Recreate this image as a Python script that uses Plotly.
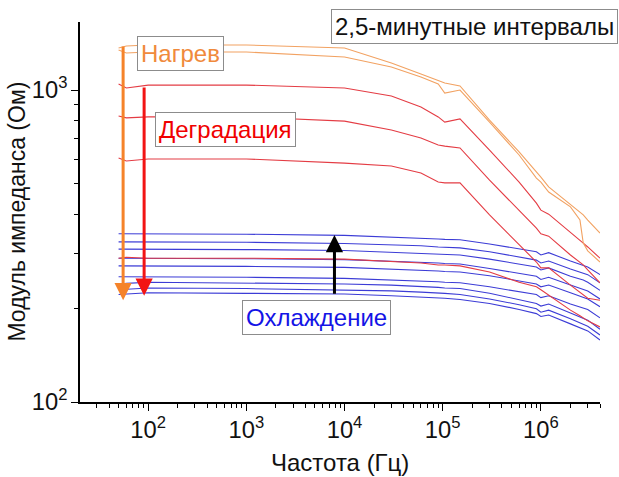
import numpy as np
import plotly.graph_objects as go

# Frequencies (Hz)
freq = [50, 60, 100, 1000, 10000, 30000, 60000, 90000, 105000, 150000, 300000,
        600000, 900000, 1000000, 1200000, 2000000, 2500000, 2700000, 3000000, 4000000]

# Heating (orange)
heat_1 = [1364, 1384, 1394, 1394, 1364, 1221, 1125, 1069, 1053, 1030, 801,
          633, 550, 526, 489, 428, 406, 398, 383, 348]
heat_2 = [1344, 1314, 1324, 1324, 1276, 1185, 1101, 1045, 978, 1000, 789,
          619, 522, 507, 471, 422, 383, 323, 305, 281]

# Degradation (red)
deg_1 = [1045, 1015, 1037, 1037, 1015, 957, 882, 820, 789, 808, 642,
         507, 434, 412, 400, 351, 331, 323, 314, 289]
deg_2 = [826, 814, 820, 820, 795, 744, 702, 666, 661, 652, 514,
         412, 361, 346, 340, 296, 281, 275, 265, 241]
deg_3 = [605, 592, 601, 601, 583, 571, 542, 507, 504, 504, 398,
         319, 281, 269, 269, 237, 225, 220, 215, 212]
deg_4 = [289, 291, 289, 289, 287, 283, 279, 275, 275, 273, 261,
         242, 234, 229, 220, 197, 189, 186, 182, 174]

# Cooling (blue)
cool_1 = [346, 346, 346, 345, 342, 338, 336, 333, 332, 331, 321, 310, 303, 296, 301, 283, 277, 275, 271, 256]
cool_2 = [326, 326, 326, 325, 322, 319, 317, 314, 313, 312, 303, 292, 285, 279, 283, 267, 261, 259, 256, 241]
cool_3 = [309, 309, 309, 308, 306, 302, 300, 298, 297, 296, 287, 277, 271, 265, 269, 253, 248, 246, 242, 228]
cool_4 = [289, 289, 289, 288, 286, 283, 281, 279, 278, 277, 268, 259, 253, 247, 251, 237, 232, 230, 227, 214]
cool_5 = [273, 273, 273, 272, 270, 267, 265, 263, 262, 261, 254, 244, 239, 234, 237, 224, 219, 217, 214, 202]
cool_6 = [252, 252, 252, 251, 249, 246, 245, 243, 242, 241, 234, 226, 221, 216, 219, 206, 202, 200, 198, 186]
cool_7 = [238, 240, 242, 241, 239, 237, 235, 233, 232, 231, 223, 213, 207, 203, 206, 193, 187, 186, 183, 171]
cool_8 = [229, 230, 232, 231, 229, 227, 225, 224, 223, 221, 214, 205, 199, 194, 197, 185, 179, 178, 175, 164]
cool_9 = [221, 222, 224, 223, 222, 219, 217, 216, 215, 213, 207, 198, 192, 188, 190, 178, 173, 172, 169, 158]

heating = [heat_1, heat_2]
degradation = [deg_1, deg_2, deg_3, deg_4]
cooling = [cool_1, cool_2, cool_3, cool_4, cool_5, cool_6, cool_7, cool_8, cool_9]

x_title = "Частота (Гц)"
y_title = "Модуль импеданса (Ом)"

ORANGE = "#F2A262"
RED = "#E43C44"
BLUE = "#3C3CD6"

fig = go.Figure()
for s in cooling:
    fig.add_trace(go.Scatter(x=freq, y=s, mode="lines", line=dict(color=BLUE, width=1.1)))
for s in degradation:
    fig.add_trace(go.Scatter(x=freq, y=s, mode="lines", line=dict(color=RED, width=1.1)))
for s in heating:
    fig.add_trace(go.Scatter(x=freq, y=s, mode="lines", line=dict(color=ORANGE, width=1.1)))

FONT = "Liberation Sans, Arial, sans-serif"

# arrows: (x, y_tail, y_head) in data units
arrows = [
    (55.6, 1394, 212, "#F5832A"),
    (91, 1030, 219, "#F21414"),
    (7900, 220, 343, "#000000"),
]
for xa, yt, yh, c in arrows:
    fig.add_annotation(x=np.log10(xa), y=np.log10(yh), ax=np.log10(xa), ay=np.log10(yt),
                       xref="x", yref="y", axref="x", ayref="y", text="", showarrow=True,
                       arrowhead=2, arrowsize=1.15, arrowwidth=3, arrowcolor=c, standoff=0)

labels = [
    ("Нагрев", 0.194, 0.918, "#F08A3C", 24),
    ("Деградация", 0.280, 0.717, "#F00000", 24),
    ("Охлаждение", 0.4555, 0.222, "#1414E6", 24),
    ("2,5-минутные интервалы", 0.7585, 0.987, "#111111", 24),
]
for t, px, py, c, fs in labels:
    fig.add_annotation(x=px, y=py, xref="paper", yref="paper", text=t, showarrow=False,
                       font=dict(family=FONT, size=fs, color=c),
                       bgcolor="white", bordercolor="#8c8c8c", borderwidth=1, borderpad=3,
                       xanchor="center", yanchor="middle")

# axis titles
fig.add_annotation(x=0.5, y=-0.158, xref="paper", yref="paper", text=x_title, showarrow=False,
                   font=dict(family=FONT, size=24, color="#111111"), xanchor="center", yanchor="middle")
fig.add_annotation(x=-0.122, y=0.5, xref="paper", yref="paper", text=y_title, showarrow=False,
                   textangle=-90, font=dict(family=FONT, size=23, color="#111111"),
                   xanchor="center", yanchor="middle")

fig.update_layout(
    width=619, height=477, margin=dict(l=80, r=19, t=22, b=75),
    plot_bgcolor="white", paper_bgcolor="white", showlegend=False,
    font=dict(family=FONT, color="#111111"),
)
fig.update_xaxes(type="log", range=[1.306, 6.602], dtick=1, exponentformat="power", automargin=False,
                 showline=True, linecolor="black", linewidth=1.5, showgrid=False, zeroline=False,
                 ticks="outside", ticklen=7, tickwidth=1.3, tickcolor="black",
                 minor=dict(ticks="outside", ticklen=4, tickwidth=1, tickcolor="black", dtick="D1", showgrid=False),
                 tickfont=dict(size=19, family=FONT))
fig.update_yaxes(type="log", range=[2, 3.218], dtick=1, exponentformat="power", automargin=False,
                 showline=True, linecolor="black", linewidth=1.5, showgrid=False, zeroline=False,
                 ticks="outside", ticklen=7, tickwidth=1.3, tickcolor="black",
                 minor=dict(ticks="outside", ticklen=4, tickwidth=1, tickcolor="black", dtick="D1", showgrid=False),
                 tickfont=dict(size=19, family=FONT))

fig.write_html("out.html")
